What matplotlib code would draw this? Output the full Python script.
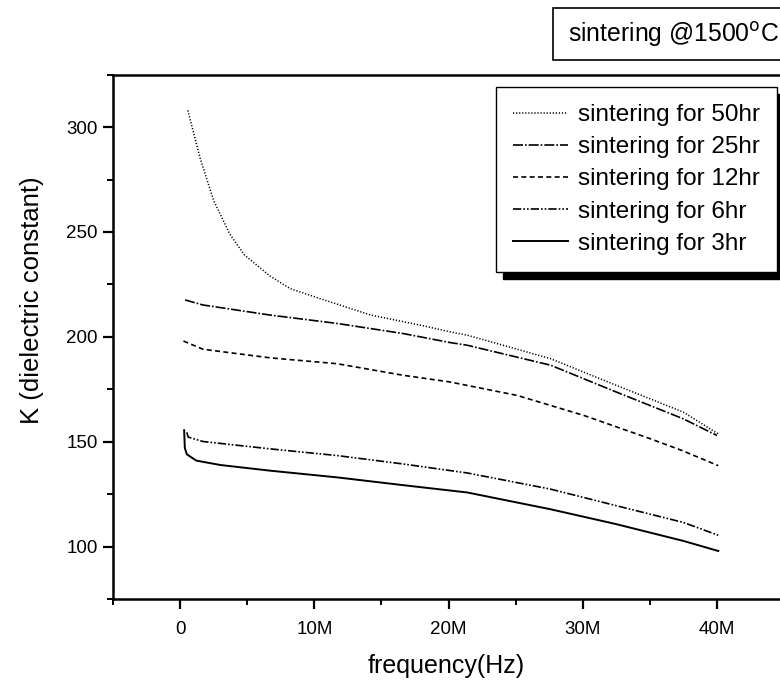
import numpy as np
import matplotlib
matplotlib.use("Agg")
import matplotlib.pyplot as plt
from matplotlib.patches import Rectangle
from matplotlib.ticker import MultipleLocator, FuncFormatter

plt.rcParams['font.family'] = ['Liberation Sans', 'DejaVu Sans']

# ---------- DATA (frequency in MHz, K values) ----------
f_50 = [0.57, 1.5, 2.5, 3.7, 4.8, 6.7, 8.2, 10.4, 14.2, 17.9, 20.1, 21.4, 27.6, 32.5, 37.5, 40.1]
k_50 = [308, 285, 265, 249, 239, 229, 223, 218.3, 210.4, 205.6, 202.4, 200.8, 189.6, 176.9, 164.1, 153.7]

f_25 = [0.37, 1.7, 6.7, 11.7, 16.6, 20.1, 21.4, 27.6, 32.5, 37.5, 40.0]
k_25 = [217.6, 215.2, 210.4, 206.4, 201.6, 197.3, 196.0, 186.5, 173.7, 160.9, 153.0]

f_12 = [0.25, 1.7, 6.7, 11.7, 16.6, 20.1, 25.1, 30.1, 35.0, 37.4, 40.1]
k_12 = [198.0, 194.1, 190.0, 187.2, 181.7, 178.5, 172.1, 162.5, 151.5, 145.8, 138.6]

f_6 = [0.5, 0.6, 1.7, 6.7, 11.7, 16.6, 21.4, 27.6, 32.5, 37.5, 40.1]
k_6 = [154.5, 152.2, 150.1, 146.6, 143.4, 139.4, 135.1, 127.4, 119.5, 111.5, 105.4]

f_3 = [0.3, 0.35, 0.5, 1.2, 3.0, 6.7, 11.7, 16.6, 21.4, 27.6, 32.5, 37.5, 40.1]
k_3 = [155.5, 147, 144.0, 141.0, 138.9, 136.2, 133.0, 129.3, 125.8, 117.8, 110.7, 102.7, 97.9]

labels = ["sintering for 50hr", "sintering for 25hr", "sintering for 12hr",
          "sintering for 6hr", "sintering for 3hr"]
x_ticks = [0, 10, 20, 30, 40]
y_ticks = [100, 150, 200, 250, 300]

# ---------- FIGURE ----------
fig = plt.figure(figsize=(7.8, 6.86), dpi=100)
ax = fig.add_axes([0.1449, 0.1268, 0.8551, 0.7643])

series = [(f_50, k_50, (0, (0.8, 1.2)), 1.1),
          (f_25, k_25, (0, (6, 1.2, 1, 1.2)), 1.2),
          (f_12, k_12, (0, (3, 2)), 1.2),
          (f_6, k_6, (0, (5, 1.2, 1, 1.2, 1, 1.2)), 1.2),
          (f_3, k_3, '-', 1.4)]

for (fx, ky, ls, lw), lab in zip(series, labels):
    ax.plot(np.array(fx) * 1e6, ky, color='black', lw=lw, linestyle=ls, label=lab)

ax.set_xlim(-5e6, 44.7e6)
ax.set_ylim(75, 325)
ax.set_xticks([t * 1e6 for t in x_ticks])
ax.xaxis.set_major_formatter(FuncFormatter(lambda v, p: "0" if v == 0 else f"{int(round(v / 1e6))}M"))
ax.xaxis.set_minor_locator(MultipleLocator(5e6))
ax.set_yticks(y_ticks)
ax.yaxis.set_minor_locator(MultipleLocator(25))

ax.spines['right'].set_visible(False)
for s in ['left', 'bottom', 'top']:
    ax.spines[s].set_linewidth(1.8)
ax.tick_params(which='major', direction='out', length=7.5, width=1.6, labelsize=13.5, top=False, right=False)
ax.tick_params(which='minor', direction='out', length=4.5, width=1.4, top=False, right=False)
ax.tick_params(axis='x', which='major', pad=8)

ax.set_xlabel("frequency(Hz)", fontsize=18, labelpad=12)
ax.set_ylabel("K (dielectric constant)", fontsize=18.5)
ax.yaxis.set_label_coords(-0.103, 0.57)

leg = ax.legend(loc='upper right', bbox_to_anchor=(0.9955, 0.9765), fontsize=17.5,
                handlelength=2.26, handletextpad=0.4, labelspacing=0.42,
                fancybox=False, framealpha=1, edgecolor='black',
                borderpad=0.7, borderaxespad=0,
                shadow={'color': 'black', 'alpha': 1, 'ox': 5, 'oy': -5})
leg.get_frame().set_linewidth(1.0)

# ---------- TITLE BOX ----------
fig.patches.append(Rectangle((553 / 780, 1 - 60 / 686), 0.5, 52 / 686,
                             transform=fig.transFigure, facecolor='white',
                             edgecolor='black', lw=1.2))
fig.text(568 / 780, 1 - 35 / 686, r"sintering @1500$^{\mathrm{o}}$C", fontsize=17.8,
         ha='left', va='center')

fig.savefig("out.png", dpi=100)
